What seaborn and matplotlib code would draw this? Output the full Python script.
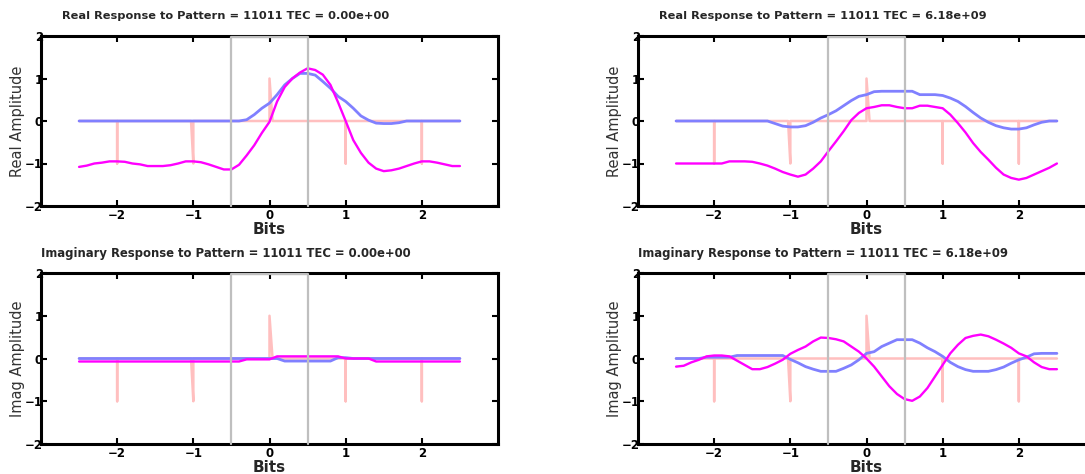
import matplotlib
matplotlib.use("Agg")
import matplotlib.pyplot as plt
import seaborn as sns
import pandas as pd

# bit positions sampled every 0.1 bit
bits = [round(-2.5 + 0.1 * i, 1) for i in range(51)]

# input pattern (impulses), drawn as one polyline
pulse_x = [-2.5, -2.0, -2.0, -2.0, -1.03, -1.0, -1.0, 0.0, 0.0, 0.04, 1.0, 1.0, 1.0, 2.0, 2.0, 2.0, 2.5]
pulse_y = [0, 0, -1, 0, 0, -1, 0, 0, 1, 0, 0, -1, 0, 0, -1, 0, 0]

# TEC = 0 : real part
real0_blue = [0, 0, 0, 0, 0, 0, 0, 0, 0, 0,
              0, 0, 0, 0, 0, 0, 0, 0, 0, 0,
              0, 0, 0.03, 0.15, 0.3, 0.42, 0.62, 0.85, 1.0, 1.12,
              1.12, 1.08, 0.93, 0.77, 0.58, 0.46, 0.3, 0.12, 0.02, -0.05,
              -0.06, -0.06, -0.04, 0, 0, 0, 0, 0, 0, 0, 0]
real0_mag = [-1.08, -1.05, -1.0, -0.98, -0.95, -0.95, -0.96, -1.0, -1.02, -1.06,
             -1.06, -1.06, -1.04, -1.0, -0.95, -0.95, -0.97, -1.02, -1.08, -1.14,
             -1.14, -1.03, -0.81, -0.57, -0.28, -0.02, 0.46, 0.8, 1.0, 1.14,
             1.24, 1.2, 1.09, 0.85, 0.44, 0.0, -0.45, -0.75, -0.98, -1.12,
             -1.18, -1.16, -1.12, -1.06, -1.0, -0.95, -0.95, -0.98, -1.02, -1.06, -1.06]

# TEC = 6.18e9 : real part
real1_blue = [0, 0, 0, 0, 0, 0, 0, 0, 0, 0,
              0, 0, 0, -0.06, -0.12, -0.14, -0.14, -0.11, -0.03, 0.07,
              0.15, 0.24, 0.36, 0.48, 0.58, 0.62, 0.69, 0.7, 0.7, 0.7,
              0.7, 0.7, 0.62, 0.62, 0.62, 0.6, 0.54, 0.46, 0.34, 0.2,
              0.07, -0.03, -0.11, -0.16, -0.19, -0.19, -0.16, -0.09, -0.03, 0, 0]
real1_mag = [-1.0, -1.0, -1.0, -1.0, -1.0, -1.0, -1.0, -0.95, -0.95, -0.95,
             -0.96, -1.0, -1.05, -1.12, -1.2, -1.26, -1.31, -1.26, -1.12, -0.95,
             -0.71, -0.48, -0.24, 0.02, 0.19, 0.3, 0.33, 0.37, 0.37, 0.33,
             0.3, 0.3, 0.36, 0.36, 0.33, 0.3, 0.15, -0.05, -0.27, -0.52,
             -0.73, -0.91, -1.1, -1.26, -1.34, -1.38, -1.34, -1.26, -1.18, -1.1, -1.0]

# TEC = 0 : imaginary part
imag0_blue = [0, 0, 0, 0, 0, 0, 0, 0, 0, 0,
              0, 0, 0, 0, 0, 0, 0, 0, 0, 0,
              0, 0, 0, 0, 0, 0, 0, -0.06, -0.06, -0.06,
              -0.06, -0.06, -0.06, -0.06, 0.02, 0.02, 0, 0, 0, 0,
              0, 0, 0, 0, 0, 0, 0, 0, 0, 0, 0]
imag0_mag = [-0.07, -0.07, -0.07, -0.07, -0.07, -0.07, -0.07, -0.07, -0.07, -0.07,
             -0.07, -0.07, -0.07, -0.07, -0.07, -0.07, -0.07, -0.07, -0.07, -0.07,
             -0.07, -0.07, -0.02, -0.02, -0.02, -0.02, 0.05, 0.05, 0.05, 0.05,
             0.05, 0.05, 0.05, 0.05, 0.05, 0.0, 0.0, 0.0, 0.0, -0.07,
             -0.07, -0.07, -0.07, -0.07, -0.07, -0.07, -0.07, -0.07, -0.07, -0.07, -0.07]

# TEC = 6.18e9 : imaginary part
imag1_blue = [0, 0, 0, 0, 0.03, 0.03, 0.03, 0.03, 0.07, 0.07,
              0.07, 0.07, 0.07, 0.07, 0.07, -0.02, -0.1, -0.19, -0.25, -0.3,
              -0.3, -0.3, -0.23, -0.15, -0.03, 0.12, 0.16, 0.28, 0.36, 0.44,
              0.44, 0.44, 0.36, 0.25, 0.16, 0.05, -0.09, -0.19, -0.26, -0.3,
              -0.3, -0.3, -0.26, -0.2, -0.11, -0.03, 0.03, 0.11, 0.12, 0.12, 0.12]
imag1_mag = [-0.19, -0.17, -0.09, -0.03, 0.05, 0.07, 0.07, 0.05, -0.05, -0.15,
             -0.25, -0.25, -0.2, -0.12, -0.03, 0.11, 0.2, 0.28, 0.4, 0.49,
             0.48, 0.45, 0.4, 0.28, 0.16, 0.0, -0.19, -0.42, -0.65, -0.83,
             -0.95, -0.99, -0.89, -0.69, -0.42, -0.15, 0.12, 0.32, 0.48, 0.53,
             0.56, 0.52, 0.44, 0.35, 0.25, 0.12, 0.05, -0.09, -0.2, -0.25, -0.25]

titles = [
    "Real Response to Pattern = 11011 TEC = 0.00e+00",
    "Real Response to Pattern = 11011 TEC = 6.18e+09",
    "Imaginary Response to Pattern = 11011 TEC = 0.00e+00",
    "Imaginary Response to Pattern = 11011 TEC = 6.18e+09",
]
ylabels = ["Real Amplitude", "Real Amplitude", "Imag Amplitude", "Imag Amplitude"]
series = [(real0_blue, real0_mag), (real1_blue, real1_mag),
          (imag0_blue, imag0_mag), (imag1_blue, imag1_mag)]

sns.set_theme(style="white")
plt.rcParams["font.family"] = ["DejaVu Sans"]

W, H = 1085, 474
fig = plt.figure(figsize=(W / 100, H / 100), dpi=100)

# axes boxes in pixels: (left, top, width, height)
boxes = [(41, 36, 457, 170), (638, 36, 457, 170),
         (41, 273, 457, 171), (638, 273, 457, 171)]

for (l, t, w, h), title, ylab, (blue, mag) in zip(boxes, titles, ylabels, series):
    ax = fig.add_axes([l / W, (H - t - h) / H, w / W, h / H])
    ax.set_facecolor("white")

    pulse = pd.DataFrame({"x": pulse_x, "y": pulse_y})
    sns.lineplot(data=pulse, x="x", y="y", estimator=None, sort=False,
                 color="#ffbfbf", linewidth=1.8, ax=ax, zorder=1)
    df = pd.DataFrame({"bits": bits, "blue": blue, "mag": mag})
    sns.lineplot(data=df, x="bits", y="blue", estimator=None,
                 color="#8080ff", linewidth=2.0, ax=ax, zorder=2)
    sns.lineplot(data=df, x="bits", y="mag", estimator=None,
                 color="#ff00ff", linewidth=1.7, ax=ax, zorder=3)

    # bit window
    ax.plot([-0.5, -0.5, 0.5, 0.5], [-2, 1.985, 1.985, -2], color="#bfbfbf",
            linewidth=1.6, zorder=6, clip_on=False)

    ax.set_xlim(-3, 3)
    ax.set_ylim(-2, 2)
    ax.set_xticks([-2, -1, 0, 1, 2])
    ax.set_yticks([-2, -1, 0, 1, 2])
    ax.tick_params(direction="in", length=4, width=1.5, colors="black",
                   top=True, right=True, bottom=True, left=True,
                   labelsize=8.5)
    ax.tick_params(axis="y", pad=-1.5)
    ax.tick_params(axis="x", pad=2)
    for lab in ax.get_xticklabels() + ax.get_yticklabels():
        lab.set_fontweight("bold")
    for sp in ax.spines.values():
        sp.set_visible(True)
        sp.set_color("black")
        sp.set_linewidth(2.2)
        sp.set_zorder(5)

    ax.set_xlabel("Bits", fontsize=11, fontweight="bold", labelpad=0)
    ax.set_ylabel(ylab, fontsize=10.5, color="#333333")
    ax.yaxis.set_label_coords(-23 / w, 0.5)
    ax.xaxis.set_label_coords(0.5, -24 / h)
    ax.xaxis.label.set_va("center")
    ax.yaxis.label.set_va("center")
    fs = 8.2 if title.startswith("Real") else 8.4
    ax.text(0.405, 1 + 20 / h, title, transform=ax.transAxes,
            ha="center", va="center", fontsize=fs, fontweight="bold")

fig.savefig("out.png", dpi=100)
